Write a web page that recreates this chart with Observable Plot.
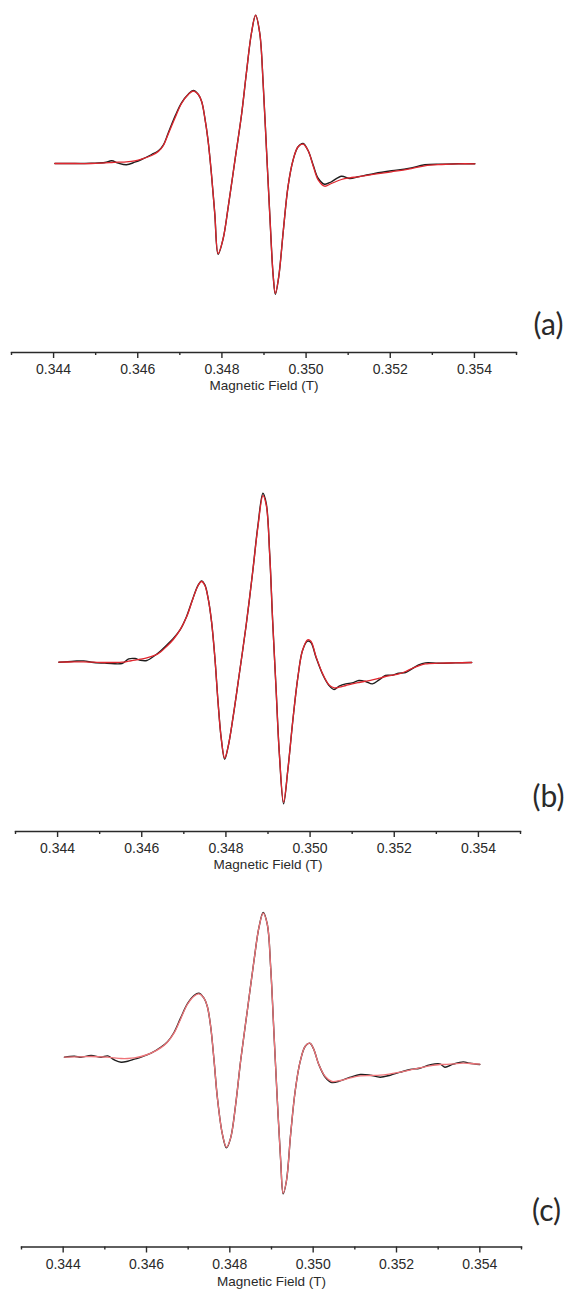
<!DOCTYPE html>
<html>
<head>
<meta charset="utf-8">
<script src="https://cdn.jsdelivr.net/npm/d3@7"></script>
<script src="https://cdn.jsdelivr.net/npm/@observablehq/plot@0.6"></script>
<style>
  body { margin: 0; background: #fff; }
  #chart { width: 571px; height: 1301px; overflow: hidden; }
  #chart svg { display: block; }
</style>
</head>
<body>
<div id="chart"></div>
<script>
// ---------- Data (field in T, intensity in arbitrary units) ----------
const fieldA = [0.34403,0.34451,0.34490,0.34522,0.34538,0.34554,0.34573,0.34593,0.34609,0.34633,0.34649,0.34661,0.34672,0.34688,0.34704,0.34720,0.34732,0.34744,0.34752,0.34759,0.34767,0.34775,0.34783,0.34791,0.34803,0.34815,0.34831,0.34847,0.34858,0.34870,0.34880,0.34890,0.34898,0.34906,0.34914,0.34922,0.34927,0.34935,0.34946,0.34957,0.34969,0.34981,0.34993,0.35005,0.35017,0.35029,0.35044,0.35060,0.35084,0.35104,0.35124,0.35163,0.35203,0.35243,0.35282,0.35322,0.35361,0.35401];
const fitA = [0,0,0,0.7,1,1.3,1.7,2.7,4.3,8,12,18,29,45,60,69,72.3,69,61.7,46.7,23.3,-10,-50,-90,-75,-43.3,3.3,50,90,130,148.3,130,80,13.3,-53.3,-113.3,-130,-113.3,-66.7,-23.3,3.3,16.7,19.3,12.7,-2.7,-16.7,-22.7,-20,-16,-14.3,-13.3,-10.7,-8.3,-5.7,-2.3,-1,-0.3,-0.3];
const expA = [0,0,0.3,1,2.7,0.3,-1.3,1.3,4,9,12.7,18.7,30,46.7,60.7,69.3,73,69,61.7,46.7,23.3,-10,-50,-90.7,-75,-43.3,3.3,50,90,130,148.3,130,80,13.3,-53.3,-113.3,-130.7,-113.3,-66.7,-23.3,3.3,16.7,20,12.7,-1.7,-15,-20.7,-18.3,-12.7,-15,-13.3,-10,-7.3,-5,-1.3,-0.7,-0.3,-0.3];

const fieldB = [0.34403,0.34439,0.34462,0.34486,0.34517,0.34553,0.34569,0.34584,0.34596,0.34612,0.34632,0.34644,0.34659,0.34675,0.34691,0.34707,0.34722,0.34734,0.34742,0.34750,0.34758,0.34766,0.34774,0.34781,0.34789,0.34797,0.34805,0.34817,0.34833,0.34848,0.34864,0.34876,0.34888,0.34896,0.34904,0.34911,0.34919,0.34927,0.34937,0.34947,0.34959,0.34971,0.34982,0.34994,0.35002,0.35014,0.35030,0.35045,0.35057,0.35069,0.35085,0.35100,0.35116,0.35132,0.35148,0.35164,0.35179,0.35195,0.35211,0.35227,0.35242,0.35258,0.35274,0.35305,0.35345,0.35384];
const fitB = [0,0.3,0.3,0,-0.3,0,1,2,3,4.3,7,10,15.7,22.7,32.3,45.7,64,76.7,80.7,76.7,63.3,40,3.3,-38.3,-76.7,-96,-85,-55,-8.3,36.7,91.7,135,166.7,156.7,108.3,41.7,-25,-91.7,-140,-108.3,-58.3,-15,11.7,22.3,21,5.7,-11.7,-22.7,-25.7,-25,-23.3,-21.7,-20.3,-19,-17.7,-16,-14.3,-13,-11.7,-9.3,-6.3,-3.7,-1.7,-1,-0.7,-0.3];
const expB = [0,1,1.3,-0.3,-1,-1.3,3.3,3.7,2,1.7,7,11,17,23.7,32.3,46.3,64.3,77,81.3,77.3,63.3,40,3.3,-38.3,-76.7,-97,-85,-55,-8.3,36.7,91.7,136.7,169,158.3,108.3,41.7,-25,-91.7,-141.7,-108.3,-58.3,-15,11.7,21,19.7,5,-12.3,-23.3,-27.3,-24,-21.7,-20.7,-18.3,-19.3,-21.7,-17.7,-13.3,-13,-11,-10.3,-6.7,-2.7,-0.7,-1,-0.7,-0.3];

const fieldC = [0.34403,0.34427,0.34443,0.34467,0.34491,0.34507,0.34523,0.34539,0.34555,0.34571,0.34587,0.34611,0.34634,0.34650,0.34666,0.34682,0.34698,0.34714,0.34726,0.34738,0.34746,0.34754,0.34762,0.34770,0.34782,0.34792,0.34802,0.34814,0.34826,0.34842,0.34858,0.34870,0.34880,0.34890,0.34898,0.34906,0.34914,0.34922,0.34928,0.34936,0.34946,0.34957,0.34969,0.34981,0.34992,0.35001,0.35013,0.35029,0.35045,0.35065,0.35089,0.35113,0.35137,0.35161,0.35185,0.35209,0.35233,0.35256,0.35280,0.35304,0.35316,0.35336,0.35360,0.35376,0.35400];
const fitC = [0,0.3,0.3,0.7,0.3,0,-0.7,-1.3,-1.3,-0.7,0.7,4,9.3,15,24,38.3,52.7,61,63.3,59,50.7,30.7,-2.7,-40,-76.7,-90,-80.7,-47.3,-3.3,46.7,96.7,130,144,132.7,90,23.3,-43.3,-103.3,-136,-123.3,-76.7,-33.3,-4,11,14,8.3,-6.7,-19.3,-24.3,-23.3,-20.7,-18.7,-18.3,-18,-16.7,-15,-12.7,-10.7,-8.7,-7.3,-7.3,-6.7,-6,-6.3,-7];
const expC = [0,1,0,1.7,0,1.3,-2.7,-5,-4,-2,0,4,10,15.3,24.7,39.3,53.3,61.7,64,59,50.7,30.7,-2.7,-40,-76.7,-90.7,-80.7,-47.3,-3.3,46.7,96.7,130,144.7,132.7,90,23.3,-43.3,-103.3,-136.7,-123.3,-76.7,-33.3,-4,11,14,8.3,-6.7,-20,-25.3,-23.7,-20,-17.3,-18,-20,-18,-15,-12.3,-11,-7.7,-6.7,-10,-7,-4.7,-6,-7.3];

const majorTicks = [0.344, 0.346, 0.348, 0.350, 0.352, 0.354];
const minorTicks = [0.343, 0.345, 0.347, 0.349, 0.351, 0.353, 0.355];
const panelLabels = ["(a)", "(b)", "(c)"];
const axisTitle = "Magnetic Field (T)";

// ---------- Rendering ----------
const panels = [
  {field: fieldA, fit: fitA, exp: expA, label: panelLabels[0], height: 420,
   marginLeft: 11, marginRight: 55, yDomain: [-189, 163], marginBottom: 68,
   labelDx: 32, labelDy: -18, titleDy: 37, fitColor: "#e0262e"},
  {field: fieldB, fit: fitB, exp: expB, label: panelLabels[1], height: 470,
   marginLeft: 15, marginRight: 51, yDomain: [-169.3, 241.7], marginBottom: 59,
   labelDx: 28, labelDy: -25, titleDy: 37, fitColor: "#e0262e"},
  {field: fieldC, fit: fitC, exp: expC, label: panelLabels[2], height: 411,
   marginLeft: 21, marginRight: 50, yDomain: [-189.8, 166.7], marginBottom: 54.5,
   labelDx: 25, labelDy: -26, titleDy: 39, fitColor: "#ee7479"}
];

const fmt = d3.format(".3f");
const chart = document.getElementById("chart");

for (const p of panels) {
  const expData = p.field.map((f, i) => ({field: f, value: p.exp[i]}));
  const fitData = p.field.map((f, i) => ({field: f, value: p.fit[i]}));
  const svg = Plot.plot({
    width: 571,
    height: p.height,
    marginTop: 0,
    marginLeft: p.marginLeft,
    marginRight: p.marginRight,
    marginBottom: p.marginBottom,
    style: {fontFamily: "'Liberation Sans', Arial, sans-serif", fontSize: "14px", color: "#2a2a2a", background: "transparent"},
    x: {domain: [0.343, 0.355]},
    y: {domain: p.yDomain, axis: null},
    marks: [
      Plot.line(expData, {x: "field", y: "value", stroke: "#1e1e1e", strokeWidth: 1.4, curve: "catmull-rom"}),
      Plot.line(fitData, {x: "field", y: "value", stroke: p.fitColor, strokeWidth: 1.3, curve: "catmull-rom"}),
      Plot.frame({anchor: "bottom", stroke: "#2a2a2a", strokeWidth: 1.4}),
      Plot.axisX({ticks: majorTicks, tickSize: 6, tickPadding: 6, tickFormat: fmt, label: null, strokeWidth: 1.4, fontSize: 14}),
      Plot.axisX({ticks: minorTicks, tickSize: 3, tickFormat: () => "", label: null, strokeWidth: 1.4}),
      Plot.text([axisTitle], {frameAnchor: "bottom", dy: p.titleDy, fontSize: 13.5, fill: "#2a2a2a"}),
      Plot.text([p.label], {frameAnchor: "bottom-right", dx: p.labelDx, dy: p.labelDy, fontSize: 30, fontFamily: "Lato, 'Open Sans', sans-serif", fill: "#2a2a2a", textAnchor: "middle"})
    ]
  });
  chart.appendChild(svg);
}
</script>
</body>
</html>
